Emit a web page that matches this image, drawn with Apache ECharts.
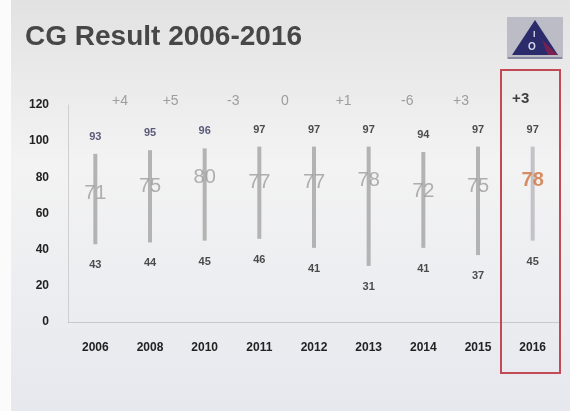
<!DOCTYPE html>
<html>
<head>
<meta charset="utf-8">
<script src="https://cdn.jsdelivr.net/npm/echarts@6/dist/echarts.min.js"></script>
<style>
html,body{margin:0;padding:0;background:#fff;}
#c{width:570px;height:411px;}
</style>
</head>
<body>
<div id="c"></div>
<script>
// ---- data ----
const categories = ['2006','2008','2010','2011','2012','2013','2014','2015','2016'];
const maxVals = [93, 95, 96, 97, 97, 97, 94, 97, 97];
const avgVals = [71, 75, 80, 77, 77, 78, 72, 75, 78];
const minVals = [43, 44, 45, 46, 41, 31, 41, 37, 45];
const changeLabels = ['+4', '+5', '-3', '0', '+1', '-6', '+3', '+3'];
const yTicks = [0, 20, 40, 60, 80, 100, 120];

// ---- layout / style (not data) ----
const changeDx = [-30, -34, -26, -29, -25, -16, -17, -12];
const FONT = '"Liberation Sans", Arial, sans-serif';

const chart = echarts.init(document.getElementById('c'), null, {renderer: 'canvas'});

const last = categories.length - 1;

const option = {
  animation: false,
  graphic: [
    {type: 'rect', z: -100, silent: true, shape: {x: 0, y: 0, width: 570, height: 411},
     style: {fill: new echarts.graphic.LinearGradient(0, 0, 0, 1, [
       {offset: 0, color: '#e2e2e2'}, {offset: 0.4, color: '#f3f3f3'}, {offset: 1, color: '#e6e8ee'}])}},
    {type: 'rect', z: -99, silent: true, shape: {x: 0, y: 0, width: 11, height: 411}, style: {fill: '#fbfbfb'}},
    {type: 'text', z: 10, left: 25, top: 23,
     style: {text: 'CG Result 2006-2016', font: 'bold 28px ' + FONT, fill: '#474747',
             shadowColor: 'rgba(0,0,0,0.25)', shadowBlur: 2, shadowOffsetX: 1, shadowOffsetY: 1}},
    // logo
    {type: 'rect', z: 10, shape: {x: 507, y: 17, width: 56, height: 42}, style: {fill: '#bcbcc6'}},
    {type: 'polygon', z: 11, shape: {points: [[535, 20], [512, 55], [558, 55]]}, style: {fill: '#2b2a6b'}},
    {type: 'polygon', z: 12, shape: {points: [[542, 40], [548, 55], [558, 55]]}, style: {fill: '#7a2050'}},
    {type: 'text', z: 13, x: 533, y: 30, style: {text: 'I', font: 'bold 9px ' + FONT, fill: '#d8d8e8'}},
    {type: 'text', z: 13, x: 528, y: 42, style: {text: 'O', font: 'bold 10px ' + FONT, fill: '#d8d8e8'}},
    {type: 'rect', z: 10, shape: {x: 508, y: 57, width: 54, height: 2}, style: {fill: '#8888a0'}},
    // highlight box
    {type: 'rect', z: 20, silent: true, shape: {x: 501, y: 70, width: 59, height: 303},
     style: {fill: 'none', stroke: '#c24a55', lineWidth: 2}}
  ],
  grid: {left: 68, right: 10, top: 105, bottom: 89, containLabel: false},
  xAxis: {
    type: 'category', data: categories, boundaryGap: true,
    axisLine: {show: true, lineStyle: {color: '#c9c9c9', width: 1}},
    axisTick: {show: false},
    axisLabel: {margin: 20, color: '#222', fontWeight: 'bold', fontSize: 12, fontFamily: FONT}
  },
  yAxis: {
    type: 'value', min: yTicks[0], max: yTicks[yTicks.length - 1], interval: 20,
    axisLine: {show: true, lineStyle: {color: '#cfcfcf', width: 1}},
    axisTick: {show: false}, splitLine: {show: false},
    axisLabel: {margin: 19, color: '#222', fontWeight: 'bold', fontSize: 12, fontFamily: FONT}
  },
  series: [
    {
      type: 'custom', z: 3,
      data: categories.map((c, i) => [i, minVals[i], maxVals[i]]),
      renderItem: function (params, api) {
        const lo = api.coord([api.value(0), api.value(1)]);
        const hi = api.coord([api.value(0), api.value(2)]);
        return {type: 'rect', shape: {x: lo[0] - 2, y: hi[1], width: 4, height: lo[1] - hi[1]},
                style: {fill: params.dataIndex === last ? '#c2c2c8' : '#b3b3b3'}};
      }
    },
    {
      type: 'scatter', z: 5, symbolSize: 1, itemStyle: {color: 'rgba(0,0,0,0)'},
      data: maxVals.map((v, i) => ({value: [i, v], label: {color: i < 3 ? '#34345e' : '#222'}})),
      label: {show: true, position: 'top', distance: 11, fontWeight: 'bold', fontSize: 11, fontFamily: FONT,
              formatter: p => p.value[1]}
    },
    {
      type: 'scatter', z: 5, symbolSize: 1, itemStyle: {color: 'rgba(0,0,0,0)'},
      data: minVals.map((v, i) => [i, v]),
      label: {show: true, position: 'bottom', distance: 15, color: '#222', fontWeight: 'bold', fontSize: 11,
              fontFamily: FONT, formatter: p => p.value[1]}
    },
    {
      type: 'scatter', z: 6, symbolSize: 1, itemStyle: {color: 'rgba(0,0,0,0)'},
      data: avgVals.map((v, i) => ({value: [i, v],
        label: i === last ? {color: '#d0733f', fontWeight: 'bold'} : {}})),
      label: {show: true, position: 'inside', color: '#9c9c9c', fontSize: 20, fontFamily: FONT,
              formatter: p => p.value[1]}
    },
    {
      type: 'scatter', z: 6, symbolSize: 1, itemStyle: {color: 'rgba(0,0,0,0)'},
      data: changeLabels.map((t, i) => ({value: [i + 1, yTicks[yTicks.length - 1]], name: t,
        label: i === changeLabels.length - 1
          ? {offset: [changeDx[i], -6], color: '#111', fontWeight: 'bold', fontSize: 15}
          : {offset: [changeDx[i], -4]}})),
      label: {show: true, position: 'inside', color: '#8a8a8a', fontSize: 14, fontFamily: FONT,
              formatter: p => p.name}
    }
  ]
};
chart.setOption(option);
</script>
</body>
</html>
